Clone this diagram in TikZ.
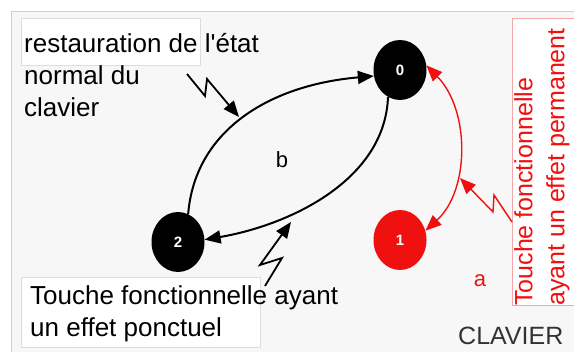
\documentclass[tikz,border=0pt]{standalone}
\usepackage{fontspec}
\setmainfont{Liberation Sans}[Ligatures=TeXOff]
\usetikzlibrary{arrows.meta,shapes.geometric}
\definecolor{framegray}{HTML}{CFCFCF}
\definecolor{bggray}{HTML}{F7F7F7}
\definecolor{boxgray}{HTML}{DDDDDD}
\definecolor{myred}{HTML}{F01010}
\definecolor{lightred}{HTML}{F2A8A8}
\tikzset{
  statenode/.style={ellipse, minimum width=53pt, minimum height=60pt, inner sep=0pt, fill=black, text=white, font=\bfseries\fontsize{15}{15}\selectfont},
  bigtext/.style={font=\fontsize{26}{32}\selectfont, inner sep=0pt},
  edgeline/.style={line width=2pt, -{Triangle[length=16pt,width=13pt]}},
  rededge/.style={myred, line width=1.4pt, {Triangle[length=16pt,width=13pt]}-{Triangle[length=16pt,width=13pt]}},
  zap/.style={line width=1.8pt, -{Triangle[length=16pt,width=13pt]}},
}
\begin{document}
\begin{tikzpicture}[x=1pt,y=-1pt]
\useasboundingbox (0,0) rectangle (574,352);
\fill[white] (0,0) rectangle (574,352);
\fill[bggray] (11.5,11.5) rectangle (574,352);
\draw[framegray, line width=1pt] (11.5,352) -- (11.5,11.5) -- (574,11.5);

% text boxes
\draw[boxgray, fill=white, line width=0.8pt] (21,18) rectangle (200,65);
\node[bigtext, anchor=base west, align=left] (restxt) at (24,117) {restauration de l'état\\normal du\\clavier};

\draw[boxgray, fill=white, line width=0.8pt] (21,277) rectangle (260,347);
\node[bigtext, anchor=base west, align=left] (ponct) at (30,337) {Touche fonctionnelle ayant\\un effet ponctuel};

\draw[lightred, fill=white, line width=0.8pt] (512,18) rectangle (580,305);
\node[font=\fontsize{25}{32}\selectfont, text=myred, inner sep=0pt, rotate=90, anchor=north west, align=left] (perm) at (514,306) {Touche fonctionnelle\\ayant un effet permanent};

\node[font=\fontsize{25}{30}\selectfont, text=black!80, inner sep=0pt, anchor=base west] (clav) at (458,345) {CLAVIER};

% states
\node[statenode] (n0) at (400,70) {0};
\node[statenode, fill=myred] (n1) at (400,240) {1};
\node[statenode] (n2) at (178,242) {2};

% labels
\node[font=\fontsize{22}{22}\selectfont, inner sep=0pt] (lb) at (282,160) {b};
\node[font=\fontsize{22}{22}\selectfont, text=myred, inner sep=0pt] (la) at (480,281) {a};

% edges
\draw[edgeline] (n2.70) .. controls (195,130) and (270,85) .. (n0.193);
\draw[edgeline] (n0.246) .. controls (385,180) and (290,225) .. (n2.5);
\draw[rededge] (n1.20) .. controls (470,190) and (470,110) .. (n0.10);

% lightning arrows
\coordinate (z1a) at (187,74);
\coordinate (z1b) at (205,96);
\coordinate (z1c) at (207,79);
\coordinate (z1d) at (239,117);
\draw[zap] (z1a) -- (z1b) -- (z1c) -- (z1d);

\coordinate (z2a) at (265,286);
\coordinate (z2b) at (282,258);
\coordinate (z2c) at (260,265);
\coordinate (z2d) at (291,222);
\draw[zap] (z2a) -- (z2b) -- (z2c) -- (z2d);

\coordinate (z3a) at (512,222);
\coordinate (z3b) at (494,195);
\coordinate (z3c) at (493,212);
\coordinate (z3d) at (460,178);
\draw[zap, myred, line width=1.4pt] (z3a) -- (z3b) -- (z3c) -- (z3d);
\end{tikzpicture}
\end{document}
